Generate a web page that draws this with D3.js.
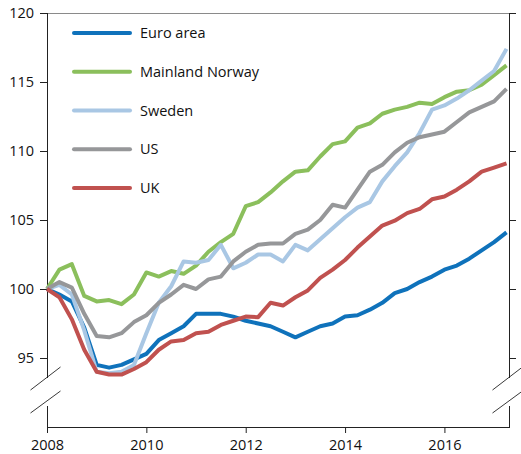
<!DOCTYPE html>
<html>
<head>
<meta charset="utf-8">
<script src="https://cdn.jsdelivr.net/npm/d3@7"></script>
<style>
  html, body { margin: 0; padding: 0; background: #fff; }
  svg text { font-family: "Open Sans", "Noto Sans", sans-serif; fill: #111; }
</style>
</head>
<body>
<svg id="chart" width="521" height="454"></svg>
<script>
const quarters = [
  "2008Q1","2008Q2","2008Q3","2008Q4","2009Q1","2009Q2","2009Q3","2009Q4",
  "2010Q1","2010Q2","2010Q3","2010Q4","2011Q1","2011Q2","2011Q3","2011Q4",
  "2012Q1","2012Q2","2012Q3","2012Q4","2013Q1","2013Q2","2013Q3","2013Q4",
  "2014Q1","2014Q2","2014Q3","2014Q4","2015Q1","2015Q2","2015Q3","2015Q4",
  "2016Q1","2016Q2","2016Q3","2016Q4","2017Q1","2017Q2"
];
const seriesNames = ["Euro area", "Mainland Norway", "Sweden", "US", "UK"];
const euroArea = [100, 99.6, 99.1, 97.2, 94.5, 94.3, 94.5, 94.9, 95.3, 96.3, 96.8, 97.3, 98.2, 98.2, 98.2, 98.0, 97.7, 97.5, 97.3, 96.9, 96.5, 96.9, 97.3, 97.5, 98.0, 98.1, 98.5, 99.0, 99.7, 100.0, 100.5, 100.9, 101.4, 101.7, 102.2, 102.8, 103.4, 104.1];
const mainlandNorway = [100, 101.4, 101.8, 99.5, 99.1, 99.2, 98.9, 99.6, 101.2, 100.9, 101.3, 101.1, 101.7, 102.7, 103.4, 104.0, 106.0, 106.3, 107.0, 107.8, 108.5, 108.6, 109.6, 110.5, 110.7, 111.7, 112.0, 112.7, 113.0, 113.2, 113.5, 113.4, 113.9, 114.3, 114.4, 114.8, 115.5, 116.2];
const sweden = [100, 100.3, 99.6, 97.0, 94.0, 93.9, 94.0, 94.5, 96.8, 99.0, 100.2, 102.0, 101.9, 102.1, 103.2, 101.5, 101.9, 102.5, 102.5, 102.0, 103.2, 102.8, 103.6, 104.4, 105.2, 105.9, 106.3, 107.8, 108.9, 109.9, 111.3, 113.0, 113.3, 113.8, 114.4, 115.1, 115.8, 117.4];
const us = [100, 100.5, 100.1, 98.2, 96.6, 96.5, 96.8, 97.6, 98.1, 99.0, 99.6, 100.3, 100.0, 100.7, 100.9, 102.0, 102.7, 103.2, 103.3, 103.3, 104.0, 104.3, 105.0, 106.1, 105.9, 107.2, 108.5, 109.0, 109.9, 110.6, 111.0, 111.2, 111.4, 112.1, 112.8, 113.2, 113.6, 114.5];
const uk = [100, 99.4, 97.8, 95.6, 94.0, 93.8, 93.8, 94.2, 94.7, 95.6, 96.2, 96.3, 96.8, 96.9, 97.4, 97.7, 98.0, 97.96, 99.0, 98.8, 99.4, 99.9, 100.8, 101.4, 102.1, 103.0, 103.8, 104.6, 104.95, 105.5, 105.8, 106.5, 106.7, 107.2, 107.8, 108.5, 108.8, 109.1];
const yTicks = [95, 100, 105, 110, 115, 120];
const xTicks = [2008, 2010, 2012, 2014, 2016];
const colors = ["#0f72bb", "#8bbf5c", "#a9c7e4", "#969799", "#c0514f"];

const seriesValues = [euroArea, mainlandNorway, sweden, us, uk];
const qToNum = q => +q.slice(0, 4) + (+q.slice(5) - 1) / 4;

const svg = d3.select("#chart");
const pLeft = 47, pRight = 509, pTop = 13, pBottom = 427;
const x = d3.scaleLinear().domain([2008, 2017.3]).range([pLeft, pRight]);
const y = d3.scaleLinear().domain([90, 120]).range([pBottom, pTop]);

// top border
svg.append("line").attr("x1", pLeft).attr("x2", pRight).attr("y1", pTop + 0.5).attr("y2", pTop + 0.5)
  .attr("stroke", "#8a8a8a").attr("stroke-width", 1);

// left axis
const leftAxis = svg.append("g").attr("transform", `translate(${pLeft},0)`)
  .call(d3.axisLeft(y).tickValues(yTicks).tickSize(7).tickPadding(6).tickFormat(d3.format("d")));
leftAxis.select(".domain").remove();
leftAxis.selectAll(".tick line").attr("stroke", "#222");
leftAxis.selectAll(".tick text").style("font-size", "14.5px").attr("fill", "#111");

// right axis
const rightAxis = svg.append("g").attr("transform", `translate(${pRight},0)`)
  .call(d3.axisRight(y).tickValues(yTicks).tickSize(7).tickFormat(""));
rightAxis.select(".domain").remove();
rightAxis.selectAll(".tick line").attr("stroke", "#222");

// vertical axis lines with break
const breakTop = 378, breakBottom = 406;
[pLeft + 0.5, pRight + 0.5].forEach(ax => {
  svg.append("line").attr("x1", ax).attr("x2", ax).attr("y1", pTop).attr("y2", breakTop).attr("stroke", "#222");
  svg.append("line").attr("x1", ax).attr("x2", ax).attr("y1", breakBottom).attr("y2", pBottom).attr("stroke", "#222");
  [[390, 367], [413, 391]].forEach(([ya, yb]) => {
    svg.append("line").attr("x1", ax - 17).attr("y1", ya).attr("x2", ax + 13).attr("y2", yb)
      .attr("stroke", "#222").attr("stroke-width", 0.9);
  });
});

// bottom axis
const bottomAxis = svg.append("g").attr("transform", `translate(0,${pBottom})`)
  .call(d3.axisBottom(x).tickValues(xTicks).tickSize(6).tickPadding(7).tickFormat(d3.format("d")));
bottomAxis.select(".domain").attr("stroke", "#222").attr("d", `M${pLeft},0.5H${pRight + 1}`);
bottomAxis.selectAll(".tick line").attr("stroke", "#222");
bottomAxis.selectAll(".tick text").style("font-size", "14.5px").attr("fill", "#111");

// lines
const line = d3.line().x((d, i) => x(qToNum(quarters[i]))).y(d => y(d));
seriesValues.forEach((vals, k) => {
  svg.append("path").datum(vals).attr("d", line)
    .attr("fill", "none").attr("stroke", colors[k]).attr("stroke-width", 4)
    .attr("stroke-linejoin", "round");
});

// legend
const legY = d3.scalePoint().domain(seriesNames).range([33, 188]);
const leg = svg.append("g");
seriesNames.forEach((name, k) => {
  leg.append("line").attr("x1", 74).attr("x2", 130).attr("y1", legY(name)).attr("y2", legY(name))
    .attr("stroke", colors[k]).attr("stroke-width", 4).attr("stroke-linecap", "round");
  leg.append("text").attr("x", 140).attr("y", legY(name)).attr("dy", "0.35em")
    .style("font-size", "14.5px").text(name);
});
</script>
</body>
</html>
